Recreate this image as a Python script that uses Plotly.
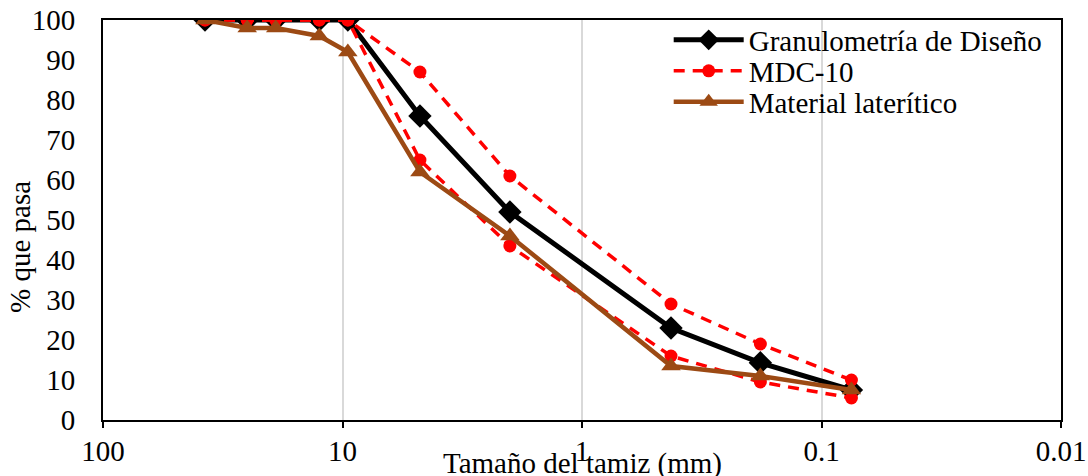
import plotly.graph_objects as go

# Sieve sizes (mm) and passing percentages
tamiz_mm = [37.5, 25, 19, 12.5, 9.5, 4.75, 2.0, 0.425, 0.18, 0.075]
diseno = [100, 100, 100, 100, 100, 76, 52, 23, 14.3, 7.5]
mdc10_sup = [100, 100, 100, 100, 100, 87, 61, 29, 19, 10]
mdc10_inf = [100, 100, 100, 100, 100, 65, 43.5, 16, 9.5, 5.5]
lateritico = [100, 98, 98, 96, 92, 62, 46, 13.5, 11, 7.5]

x_ticks = [100, 10, 1, 0.1, 0.01]
x_ticktext = ["100", "10", "1", "0.1", "0.01"]
y_ticks = list(range(0, 101, 10))

FONT = "Liberation Serif, Times New Roman, serif"
FS = 29
RED = "#ff0000"
BROWN = "#9c4a14"

fig = go.Figure()
fig.add_trace(go.Scatter(
    x=tamiz_mm, y=diseno, name="Granulometría de Diseño", mode="lines+markers",
    legend="legend",
    line=dict(color="black", width=5),
    marker=dict(symbol="diamond", size=18, color="black"),
))
fig.add_trace(go.Scatter(
    x=tamiz_mm, y=mdc10_sup, name="MDC-10", mode="lines+markers",
    legend="legend2",
    line=dict(color=RED, width=3.5, dash="11px,8px"),
    marker=dict(symbol="circle", size=13, color=RED),
))
fig.add_trace(go.Scatter(
    x=tamiz_mm, y=mdc10_inf, name="MDC-10", mode="lines+markers", showlegend=False,
    line=dict(color=RED, width=3.5, dash="11px,8px"),
    marker=dict(symbol="circle", size=13, color=RED),
))
fig.add_trace(go.Scatter(
    x=tamiz_mm, y=lateritico, name="Material laterítico", mode="lines+markers",
    legend="legend3",
    line=dict(color=BROWN, width=4.5),
    marker=dict(symbol="triangle-up", size=17, color=BROWN),
))

legend_common = dict(
    xanchor="left", yanchor="middle",
    bgcolor="rgba(0,0,0,0)", borderwidth=0,
    font=dict(family=FONT, size=FS, color="black"),
    itemwidth=70,
)
# rows of the legend, placed one under another
legend_x = 0.5905
row_y = [(420 - 40) / 400, (420 - 71) / 400, (420 - 102) / 400]

fig.update_layout(
    width=1088, height=476,
    margin=dict(l=103, r=27, t=20, b=56),
    plot_bgcolor="white", paper_bgcolor="white",
    font=dict(family=FONT, size=FS, color="black"),
    showlegend=True,
    legend=dict(x=legend_x, y=row_y[0], **legend_common),
    legend2=dict(x=legend_x, y=row_y[1], **legend_common),
    legend3=dict(x=legend_x, y=row_y[2], **legend_common),
    annotations=[
        dict(text="Tamaño del tamiz (mm)", xref="paper", yref="paper",
             x=0.5, y=-(463 - 420) / 400,
             xanchor="center", yanchor="middle", showarrow=False,
             font=dict(family=FONT, size=FS)),
        dict(text="% que pasa", xref="paper", yref="paper",
             x=-(103 - 20) / (1061 - 103), y=(420 - 247) / 400,
             xanchor="center", yanchor="middle", showarrow=False, textangle=-90,
             font=dict(family=FONT, size=FS)),
    ],
)

fig.update_xaxes(
    type="log", range=[2, -2],
    tickvals=x_ticks, ticktext=x_ticktext,
    showgrid=True, gridcolor="#d9d9d9", gridwidth=1.5,
    showline=True, linecolor="black", linewidth=2, mirror=True,
    ticks="outside", ticklen=6, tickwidth=2, tickcolor="black",
    ticklabelstandoff=-2, automargin=False,
    zeroline=False,
)
fig.update_yaxes(
    range=[0, 100], tickvals=y_ticks,
    showgrid=False,
    showline=True, linecolor="black", linewidth=2, mirror=True,
    ticks="", ticklabelstandoff=20, automargin=False,
    zeroline=False,
)

fig.write_html("out.html")
